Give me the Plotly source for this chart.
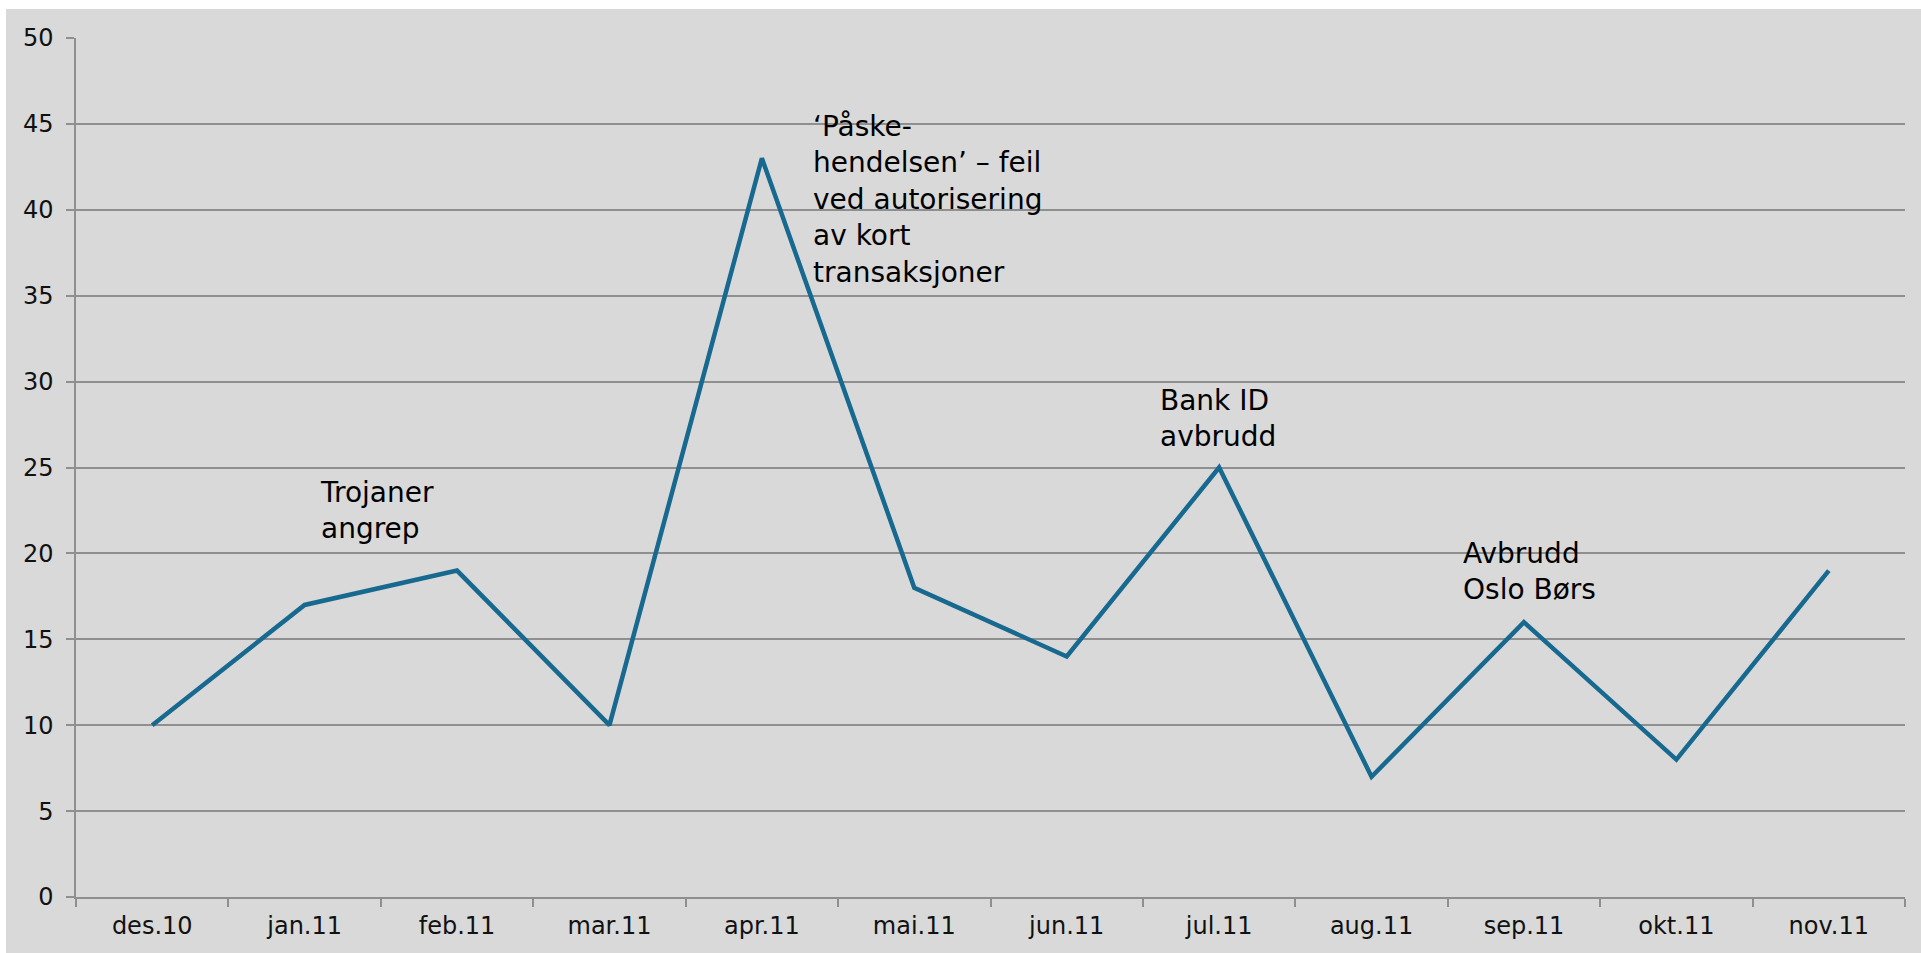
import plotly.graph_objects as go

months = ["des.10", "jan.11", "feb.11", "mar.11", "apr.11", "mai.11",
          "jun.11", "jul.11", "aug.11", "sep.11", "okt.11", "nov.11"]
values = [10, 17, 19, 10, 43, 18, 14, 25, 7, 16, 8, 19]

notes = [
    ("Trojaner<br>angrep", 1.09, 24.6),
    ("‘Påske-<br>hendelsen’ – feil<br>ved autorisering<br>av kort<br>transaksjoner", 4.32, 45.9),
    ("Bank ID<br>avbrudd", 6.60, 30.0),
    ("Avbrudd<br>Oslo Børs", 8.59, 21.1),
]

FONT = "DejaVu Sans, Liberation Sans, Arial"
GRID = "#8f8f8f"
fig = go.Figure()
fig.add_trace(go.Scatter(x=months, y=values, mode="lines",
                         line=dict(color="#17698f", width=4.5),
                         hoverinfo="x+y"))

for text, x, y in notes:
    fig.add_annotation(x=x, y=y, xref="x", yref="y", text=text, showarrow=False,
                       xanchor="left", yanchor="top", align="left",
                       font=dict(size=28, color="#000000", family=FONT))

fig.update_layout(
    width=1921, height=953,
    margin=dict(l=76, r=16, t=38, b=56),
    paper_bgcolor="#d9d9d9", plot_bgcolor="#d9d9d9",
    font=dict(family=FONT, size=24, color="#111111"),
    showlegend=False,
    shapes=[
        dict(type="rect", xref="paper", yref="paper", x0=-0.1, x1=1.1,
             y0=1 + 29 / 859, y1=1.2, fillcolor="white", line=dict(width=0), layer="below"),
        dict(type="rect", xref="paper", yref="paper", x0=-70 / 1829, x1=-76 / 1829 - 1,
             y0=-0.2, y1=1.2, fillcolor="white", line=dict(width=0), layer="below"),
    ],
)
fig.update_xaxes(type="category", tickson="boundaries", ticks="outside", ticklen=8,
                 tickcolor=GRID, tickwidth=1.5, showline=True, linecolor=GRID, linewidth=1.5,
                 showgrid=False, tickfont=dict(size=24), ticklabelstandoff=6,
                 range=[-0.5, 11.5])
fig.update_yaxes(range=[0, 50], dtick=5, ticks="outside", ticklen=8, tickcolor=GRID,
                 tickwidth=1.5, showline=True, linecolor=GRID, linewidth=1.5,
                 showgrid=True, gridcolor=GRID, gridwidth=1.5, zeroline=False,
                 tickfont=dict(size=24), ticklabelstandoff=8)

fig.write_html("out.html")
